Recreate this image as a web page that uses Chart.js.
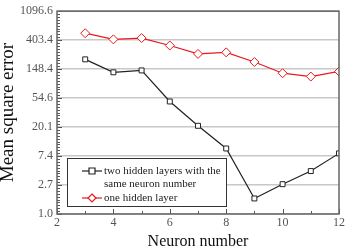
<!DOCTYPE html>
<html>
<head>
<meta charset="utf-8">
<script src="https://cdn.jsdelivr.net/npm/chart.js@4"></script>
<style>
  html, body { margin: 0; padding: 0; background: #fff; }
  #wrap { width: 347px; height: 249px; }
</style>
</head>
<body>
<div id="wrap"><canvas id="mseChart" width="347" height="249"></canvas></div>
<script>
// values
const neurons = [3, 4, 5, 6, 7, 8, 9, 10, 11, 12];
const twoHiddenLayers = [208, 133, 142, 48.6, 21, 9.6, 1.71, 2.8, 4.4, 8.1];
const oneHiddenLayer = [513, 415, 434, 336, 251, 265, 190, 129, 115, 137];
const yTicks = [1.0, 2.718, 7.389, 20.09, 54.6, 148.41, 403.43, 1096.63];
const xTicks = [2, 4, 6, 8, 10, 12];

const serif = "'Liberation Serif', 'DejaVu Serif', serif";

// frame, inward tick marks and the legend box
const decorations = {
    id: 'decorations',
    afterDraw(chart) {
        const { ctx, chartArea: a, scales } = chart;
        ctx.save();
        ctx.strokeStyle = '#555';
        ctx.lineWidth = 1;
        // y minor ticks
        for (let k = 0; k < yTicks.length - 1; k++) {
            const y0 = scales.y.getPixelForValue(yTicks[k]);
            const y1 = scales.y.getPixelForValue(yTicks[k + 1]);
            for (let i = 0; i <= 10; i++) {
                const y = Math.round(y0 + (y1 - y0) * i / 10) + 0.5;
                const len = (i === 0 || i === 10) ? 5 : 3;
                ctx.beginPath();
                ctx.moveTo(a.left, y);
                ctx.lineTo(a.left + len, y);
                ctx.stroke();
            }
        }
        // x ticks
        for (let v = 2; v <= 12; v++) {
            const x = Math.round(scales.x.getPixelForValue(v)) + 0.5;
            ctx.beginPath();
            ctx.moveTo(x, a.bottom);
            ctx.lineTo(x, a.bottom - (v % 2 === 0 ? 5 : 3));
            ctx.stroke();
        }
        // frame
        ctx.strokeStyle = '#666';
        ctx.lineWidth = 1.5;
        ctx.strokeRect(a.left, a.top, a.right - a.left, a.bottom - a.top);

        // legend
        const bx = 67, by = 158, bw = 159, bh = 48;
        ctx.fillStyle = '#fff';
        ctx.fillRect(bx, by, bw, bh);
        ctx.strokeStyle = '#333';
        ctx.lineWidth = 1;
        ctx.strokeRect(bx + 0.5, by + 0.5, bw, bh);
        ctx.font = "11px " + serif;
        ctx.fillStyle = '#222';
        ctx.textBaseline = 'middle';
        const rows = [
            { y: 171, color: '#222', style: 'rect', text: 'two hidden layers with the' },
            { y: 184, color: null, text: 'same neuron number' },
            { y: 198, color: '#e8191c', style: 'diamond', text: 'one hidden layer' }
        ];
        rows.forEach(r => {
            if (r.color) {
                ctx.strokeStyle = r.color;
                ctx.lineWidth = 1.2;
                ctx.beginPath();
                ctx.moveTo(82, r.y);
                ctx.lineTo(102, r.y);
                ctx.stroke();
                ctx.fillStyle = '#fff';
                ctx.beginPath();
                if (r.style === 'rect') {
                    ctx.rect(89, r.y - 3, 6, 6);
                } else {
                    ctx.moveTo(92, r.y - 4);
                    ctx.lineTo(96, r.y);
                    ctx.lineTo(92, r.y + 4);
                    ctx.lineTo(88, r.y);
                    ctx.closePath();
                }
                ctx.fill();
                ctx.stroke();
            }
            ctx.fillStyle = '#222';
            ctx.fillText(r.text, 104, r.y);
        });
        ctx.restore();
    }
};

new Chart(document.getElementById('mseChart'), {
    type: 'line',
    data: {
        labels: neurons,
        datasets: [{
            label: 'two hidden layers with the same neuron number',
            data: neurons.map((n, i) => ({ x: n, y: twoHiddenLayers[i] })),
            borderColor: '#222',
            borderWidth: 1.2,
            pointStyle: 'rect',
            pointRadius: 3.5,
            pointBackgroundColor: '#fff',
            pointBorderColor: '#222',
            pointBorderWidth: 1,
            tension: 0
        }, {
            label: 'one hidden layer',
            data: neurons.map((n, i) => ({ x: n, y: oneHiddenLayer[i] })),
            borderColor: '#e8191c',
            borderWidth: 1.2,
            pointStyle: 'rectRot',
            pointRadius: 4.5,
            pointBackgroundColor: '#fff',
            pointBorderColor: '#e8191c',
            pointBorderWidth: 1,
            tension: 0
        }]
    },
    options: {
        responsive: false,
        animation: false,
        layout: { padding: { top: 5, right: 7, left: 0, bottom: 0 } },
        plugins: { legend: { display: false }, tooltip: { enabled: false } },
        scales: {
            x: {
                type: 'linear',
                min: 2,
                max: 12,
                afterBuildTicks: s => { s.ticks = xTicks.map(v => ({ value: v })); },
                grid: { display: false, drawTicks: false },
                border: { display: false },
                ticks: { color: '#555', font: { family: serif, size: 12 }, padding: 2 },
                title: { display: true, text: 'Neuron number', color: '#111', font: { family: serif, size: 16 }, padding: { top: 0, bottom: -2 } },
                afterFit: s => { s.height = 35; }
            },
            y: {
                type: 'logarithmic',
                min: yTicks[0],
                max: yTicks[yTicks.length - 1],
                afterBuildTicks: s => { s.ticks = yTicks.map(v => ({ value: v })); },
                grid: { color: '#c8c8c8', lineWidth: 1.5, drawTicks: false },
                border: { display: false },
                ticks: { color: '#555', font: { family: serif, size: 12 }, padding: 4, callback: v => v.toFixed(1) },
                title: { display: true, text: 'Mean square error', color: '#111', font: { family: serif, size: 19 }, padding: { top: -3, bottom: 4 } },
                afterFit: s => { s.width = 57; }
            }
        }
    },
    plugins: [decorations]
});
</script>
</body>
</html>
